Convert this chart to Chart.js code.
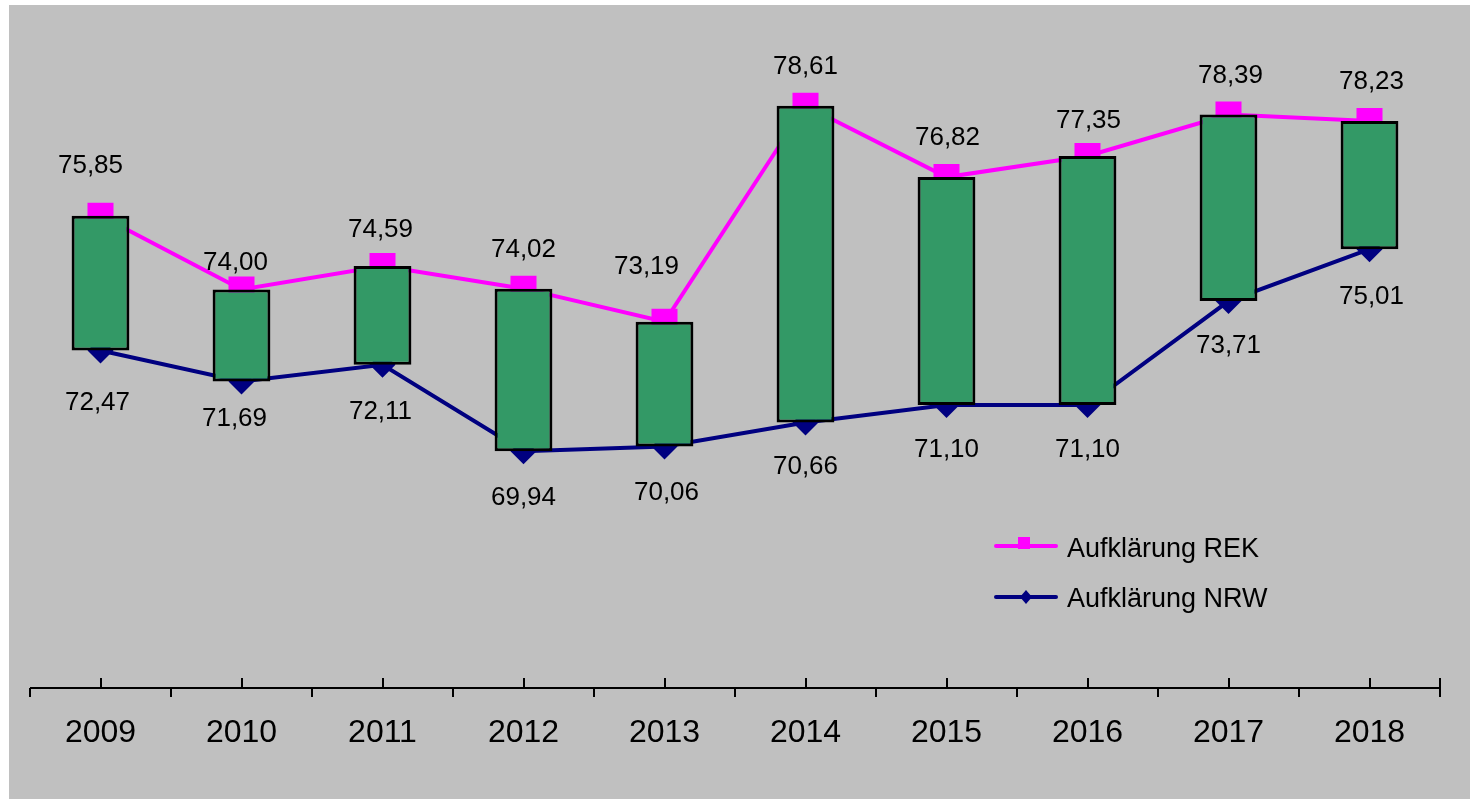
<!DOCTYPE html>
<html>
<head>
<meta charset="utf-8">
<title>Aufklärung REK / NRW</title>
<script src="https://cdn.jsdelivr.net/npm/chart.js@4/dist/chart.umd.min.js"></script>
<style>
    html, body { margin: 0; padding: 0; background: #ffffff; }
    canvas { display: block; }
</style>
</head>
<body>
<canvas id="chart" width="1470" height="799"></canvas>
<script>
const years = ['2009', '2010', '2011', '2012', '2013', '2014', '2015', '2016', '2017', '2018'];
const rek = [75.85, 74.00, 74.59, 74.02, 73.19, 78.61, 76.82, 77.35, 78.39, 78.23];
const nrw = [72.47, 71.69, 72.11, 69.94, 70.06, 70.66, 71.10, 71.10, 73.71, 75.01];
const seriesNames = ['Aufklärung REK', 'Aufklärung NRW'];

// hand-placed label nudges (dx, dy) as in the original sheet
const rekLabelNudge = [[-10, -11], [-6, 13], [-2, 3], [0, 0], [-18, -16], [0, 0], [1, 0], [1, 4], [2, 0], [2, 0]];
const nrwLabelNudge = [[-3, 6], [-7, -10], [-2, 0], [0, 0], [2, 0], [0, -3], [0, -2], [0, -2], [0, -2], [2, 1]];

const updown = rek.map((v, i) => [Math.min(v, nrw[i]), Math.max(v, nrw[i])]);

const fmt = v => v.toFixed(2).replace('.', ',');
const FONT = '"Liberation Sans", Arial, sans-serif';

const decorations = {
    id: 'decorations',
    beforeDraw(chart) {
        const ctx = chart.ctx;
        ctx.save();
        ctx.fillStyle = '#ffffff';
        ctx.fillRect(0, 0, chart.width, chart.height);
        ctx.fillStyle = '#c0c0c0';
        ctx.fillRect(9, 5, chart.width - 9, chart.height - 5);
        ctx.restore();
    },
    afterDatasetsDraw(chart) {
        const ctx = chart.ctx;
        const x = chart.scales.x;
        const y = chart.scales.y;
        const area = chart.chartArea;
        const axisY = Math.round(area.bottom);
        const band = (area.right - area.left) / years.length;

        ctx.save();
        // axis line and ticks
        ctx.strokeStyle = '#000000';
        ctx.lineWidth = 2;
        ctx.beginPath();
        ctx.moveTo(area.left, axisY);
        ctx.lineTo(area.right, axisY);
        for (let i = 0; i <= years.length; i++) {
            const px = Math.round(area.left + band * i);
            ctx.moveTo(px, i === years.length ? axisY - 10 : axisY);
            ctx.lineTo(px, axisY + 9);
        }
        years.forEach((yr, i) => {
            const px = Math.round(x.getPixelForValue(i));
            ctx.moveTo(px, axisY - 10);
            ctx.lineTo(px, axisY);
        });
        ctx.stroke();

        // category labels
        ctx.fillStyle = '#000000';
        ctx.textAlign = 'center';
        ctx.textBaseline = 'alphabetic';
        ctx.font = '32px ' + FONT;
        years.forEach((yr, i) => {
            ctx.fillText(yr, x.getPixelForValue(i), axisY + 54);
        });

        // value labels
        ctx.font = '26px ' + FONT;
        rek.forEach((v, i) => {
            const n = rekLabelNudge[i];
            ctx.fillText(fmt(v), x.getPixelForValue(i) + n[0], y.getPixelForValue(v) - 32 + n[1]);
        });
        nrw.forEach((v, i) => {
            const n = nrwLabelNudge[i];
            ctx.fillText(fmt(v), x.getPixelForValue(i) + n[0], y.getPixelForValue(v) + 54 + n[1]);
        });

        // legend
        ctx.lineCap = 'round';
        ctx.lineWidth = 4;
        ctx.strokeStyle = '#ff00ff';
        ctx.beginPath();
        ctx.moveTo(996, 546);
        ctx.lineTo(1056, 546);
        ctx.stroke();
        ctx.fillStyle = '#ff00ff';
        ctx.fillRect(1018, 537, 12, 12);

        ctx.strokeStyle = '#000080';
        ctx.beginPath();
        ctx.moveTo(996, 597);
        ctx.lineTo(1056, 597);
        ctx.stroke();
        ctx.fillStyle = '#000080';
        ctx.beginPath();
        ctx.moveTo(1026, 590);
        ctx.lineTo(1032, 597);
        ctx.lineTo(1026, 604);
        ctx.lineTo(1020, 597);
        ctx.closePath();
        ctx.fill();

        ctx.fillStyle = '#000000';
        ctx.textAlign = 'left';
        ctx.font = '27px ' + FONT;
        ctx.fillText(seriesNames[0], 1067, 557);
        ctx.fillText(seriesNames[1], 1067, 607);
        ctx.restore();
    }
};

new Chart(document.getElementById('chart'), {
    type: 'bar',
    data: {
        labels: years,
        datasets: [
            {
                type: 'bar',
                label: 'updown',
                data: updown,
                backgroundColor: '#339966',
                borderColor: '#000000',
                borderWidth: 3,
                borderSkipped: false,
                barPercentage: 0.41,
                categoryPercentage: 1,
                order: 0
            },
            {
                type: 'line',
                label: seriesNames[0],
                data: rek,
                borderColor: '#ff00ff',
                borderWidth: 4,
                backgroundColor: '#ff00ff',
                pointStyle: 'rect',
                pointRadius: 18.4,
                pointBorderWidth: 0,
                pointBackgroundColor: '#ff00ff',
                tension: 0,
                order: 1
            },
            {
                type: 'line',
                label: seriesNames[1],
                data: nrw,
                borderColor: '#000080',
                borderWidth: 4,
                backgroundColor: '#000080',
                pointStyle: 'rectRot',
                pointRadius: 13,
                pointBorderWidth: 0,
                pointBackgroundColor: '#000080',
                tension: 0,
                order: 2
            }
        ]
    },
    options: {
        responsive: false,
        animation: false,
        layout: { autoPadding: false, padding: { left: 30, right: 30, top: 10.5, bottom: 111 } },
        plugins: {
            legend: { display: false },
            tooltip: { enabled: false }
        },
        scales: {
            x: { display: false, offset: true },
            y: { display: false, min: 64, max: 81 }
        }
    },
    plugins: [decorations]
});
</script>
</body>
</html>
